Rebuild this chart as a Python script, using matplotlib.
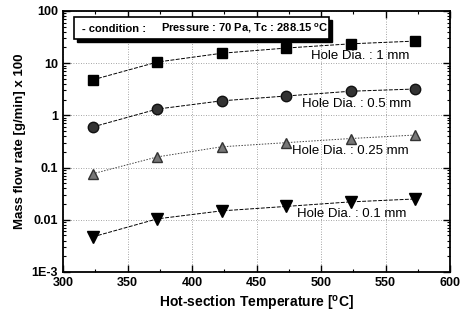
import matplotlib
matplotlib.use('Agg')
from matplotlib import pyplot as plt
from matplotlib.patches import Rectangle
from matplotlib.ticker import FixedLocator, FixedFormatter, LogLocator, NullFormatter

plt.rcParams['font.family'] = ['Liberation Sans', 'DejaVu Sans']
plt.rcParams['font.weight'] = 'bold'

temp_x = [323, 373, 423, 473, 523, 573]
hole_1mm = [4.8, 10.5, 15.5, 19.5, 23.5, 26.5]
hole_05mm = [0.60, 1.32, 1.9, 2.35, 2.9, 3.2]
hole_025mm = [0.076, 0.16, 0.25, 0.30, 0.36, 0.42]
hole_01mm = [0.0047, 0.0104, 0.0148, 0.018, 0.022, 0.025]

y_ticks = [1e-3, 1e-2, 1e-1, 1, 10, 100]
y_labels = ['1E-3', '0.01', '0.1', '1', '10', '100']

fig = plt.figure(figsize=(4.64, 3.14), dpi=100)
ax = fig.add_axes([0.136, 0.134, 0.834, 0.831])

ax.plot(temp_x, hole_1mm, color='black', linestyle=(0, (4, 1.5)), linewidth=0.7,
        marker='s', markersize=7.5, markerfacecolor='black', markeredgecolor='black')
ax.plot(temp_x, hole_05mm, color='black', linestyle=(0, (4, 1.5)), linewidth=0.7,
        marker='o', markersize=7.5, markerfacecolor='#333333', markeredgecolor='#111111')
ax.plot(temp_x, hole_025mm, color='#444444', linestyle=(0, (1.5, 1.5)), linewidth=0.7,
        marker='^', markersize=7, markerfacecolor='#777777', markeredgecolor='#333333')
ax.plot(temp_x, hole_01mm, color='black', linestyle=(0, (4, 1.5)), linewidth=0.7,
        marker='v', markersize=8, markerfacecolor='black', markeredgecolor='black')

ax.set_yscale('log')
ax.set_xlim(300, 600)
ax.set_ylim(1e-3, 100)
ax.yaxis.set_major_locator(FixedLocator(y_ticks))
ax.yaxis.set_major_formatter(FixedFormatter(y_labels))
ax.yaxis.set_minor_locator(LogLocator(base=10, subs=range(2, 10)))
ax.yaxis.set_minor_formatter(NullFormatter())
ax.set_xticks([300, 350, 400, 450, 500, 550, 600])
ax.set_xticks([325, 375, 425, 475, 525, 575], minor=True)

ax.tick_params(direction='in', which='both', top=True, right=True, labelsize=9)
ax.tick_params(which='major', length=5, width=1)
ax.tick_params(which='minor', length=2.5, width=0.8)
for s in ax.spines.values():
    s.set_linewidth(1.3)

ax.grid(True, which='major', linestyle=(0, (1, 2)), color='#888888', linewidth=0.6)

ax.set_xlabel('Hot-section Temperature [$\\mathregular{^{o}}$C]', fontsize=10, fontweight='bold')
ax.set_ylabel('Mass flow rate [g/min] x 100', fontsize=9.5, fontweight='bold')

ax.text(0.768, 0.828, 'Hole Dia. : 1 mm', transform=ax.transAxes, ha='center', va='center',
        fontsize=9.5, fontweight='normal')
ax.text(0.758, 0.644, 'Hole Dia. : 0.5 mm', transform=ax.transAxes, ha='center', va='center',
        fontsize=9.5, fontweight='normal')
ax.text(0.742, 0.464, 'Hole Dia. : 0.25 mm', transform=ax.transAxes, ha='center', va='center',
        fontsize=9.5, fontweight='normal')
ax.text(0.745, 0.222, 'Hole Dia. : 0.1 mm', transform=ax.transAxes, ha='center', va='center',
        fontsize=9.5, fontweight='normal')

# condition box with shadow
ax.add_patch(Rectangle((0.036, 0.880), 0.659, 0.084, transform=ax.transAxes,
                       facecolor='black', edgecolor='black', zorder=5))
ax.add_patch(Rectangle((0.028, 0.893), 0.659, 0.084, transform=ax.transAxes,
                       facecolor='white', edgecolor='black', linewidth=1.2, zorder=6))
ax.text(0.049, 0.932, '- condition :', transform=ax.transAxes, ha='left', va='center',
        fontsize=8, fontweight='bold', zorder=7)
ax.text(0.253, 0.932, 'Pressure : 70 Pa, Tc : 288.15 $\\mathregular{^{o}}$C', transform=ax.transAxes,
        ha='left', va='center', fontsize=8, fontweight='bold', zorder=7)

fig.savefig('out.png', dpi=100)
